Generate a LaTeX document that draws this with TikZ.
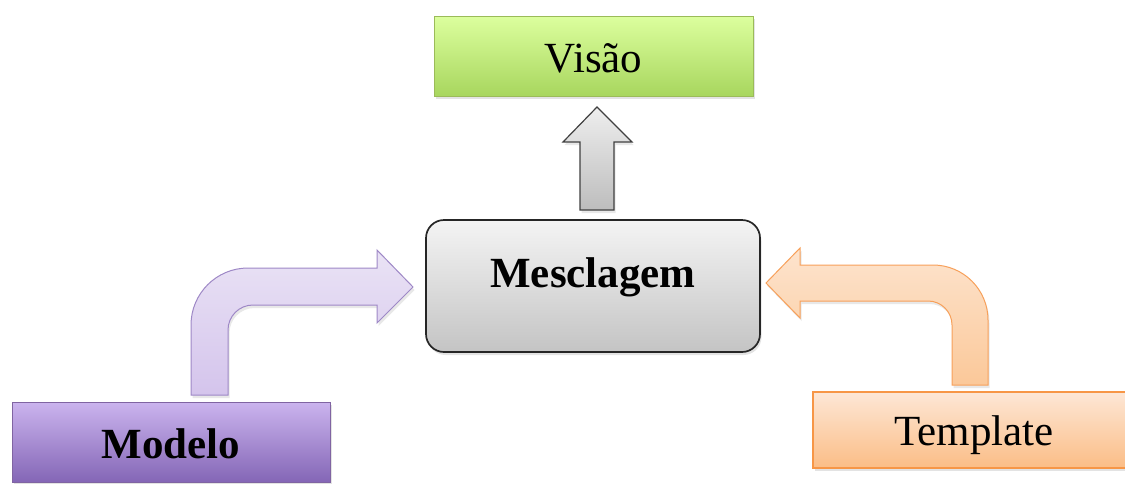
\documentclass[tikz,border=0pt]{standalone}
\usepackage{fontspec}
\setmainfont{Liberation Serif}
\usetikzlibrary{shadows}
\definecolor{vtop}{HTML}{DCFF9E}
\definecolor{vbot}{HTML}{A8D65E}
\definecolor{vline}{HTML}{9BBB59}
\definecolor{mtop}{HTML}{CBB4EE}
\definecolor{mbot}{HTML}{8466B6}
\definecolor{mline}{HTML}{8064A2}
\definecolor{ttop}{HTML}{FDE7D6}
\definecolor{tbot}{HTML}{FBBD86}
\definecolor{tline}{HTML}{F79646}
\definecolor{gtop}{HTML}{F4F4F4}
\definecolor{gbot}{HTML}{C4C4C4}
\definecolor{patop}{HTML}{EAE3F5}
\definecolor{pabot}{HTML}{D4C4EC}
\definecolor{paline}{HTML}{9E88C6}
\definecolor{oatop}{HTML}{FDE4CE}
\definecolor{oabot}{HTML}{FBC899}
\definecolor{oaline}{HTML}{F7A05A}
\definecolor{gatop}{HTML}{EEEEEE}
\definecolor{gabot}{HTML}{BDBDBD}
\tikzset{
  box/.style={inner sep=0pt, font=\fontsize{43}{50}\selectfont,
    drop shadow={shadow xshift=1.5pt, shadow yshift=-3pt, opacity=0.22}},
  shd/.style={drop shadow={shadow xshift=1.5pt, shadow yshift=-3pt, opacity=0.18}},
}
\begin{document}
\begin{tikzpicture}[x=1pt,y=-1pt]
\useasboundingbox (0,0) rectangle (1125,483);

% boxes
\node[box, draw=vline, line width=1pt, top color=vtop, bottom color=vbot,
  minimum width=319pt, minimum height=80pt, text height=32pt, text depth=0pt]
  (visao) at (593.5,56) {Visão};
\node[box, draw=black!85, line width=1.7pt, rounded corners=18pt, top color=gtop, bottom color=gbot,
  minimum width=334pt, minimum height=132pt, text height=20pt, text depth=18pt,
  font=\fontsize{43}{50}\selectfont\bfseries]
  (mescla) at (593,286) {Mesclagem};
\node[box, draw=mline, line width=1pt, top color=mtop, bottom color=mbot,
  minimum width=318pt, minimum height=80pt, text height=32pt, text depth=0pt,
  font=\fontsize{43}{50}\selectfont\bfseries]
  (modelo) at (171,442) {Modelo};
\node[box, draw=tline, line width=1.5pt, top color=ttop, bottom color=tbot,
  minimum width=322pt, minimum height=76pt, text height=31pt, text depth=0pt]
  (template) at (974,430) {Template};

% gray up arrow (Mesclagem -> Visao)
\path[shd, draw=black!75, line width=1.2pt, top color=gatop, bottom color=gabot, line join=miter]
  (580,210) -- (580,142) -- (563,142) -- (597,107) -- (632,142) -- (614,142) -- (614,210) -- cycle;

% purple bent arrow (Modelo -> Mesclagem)
\path[shd, draw=paline, line width=1pt, top color=patop, bottom color=pabot, line join=miter]
  (191,395) -- (191,325) .. controls (191,293.5) and (216.5,268) .. (248,268)
  -- (377,268) -- (377,250) -- (413,287) -- (377,323) -- (377,305)
  -- (253,305) .. controls (239.2,305) and (228,316.2) .. (228,330)
  -- (228,395) -- cycle;

% orange bent arrow (Template -> Mesclagem)
\path[shd, draw=oaline, line width=1pt, top color=oatop, bottom color=oabot, line join=miter]
  (988,385) -- (988,320) .. controls (988,289.6) and (963.4,265) .. (933,265)
  -- (800,265) -- (800,248) -- (766,283) -- (800,318) -- (800,301)
  -- (928,301) .. controls (941.3,301) and (952,311.7) .. (952,325)
  -- (952,385) -- cycle;
\end{tikzpicture}
\end{document}
